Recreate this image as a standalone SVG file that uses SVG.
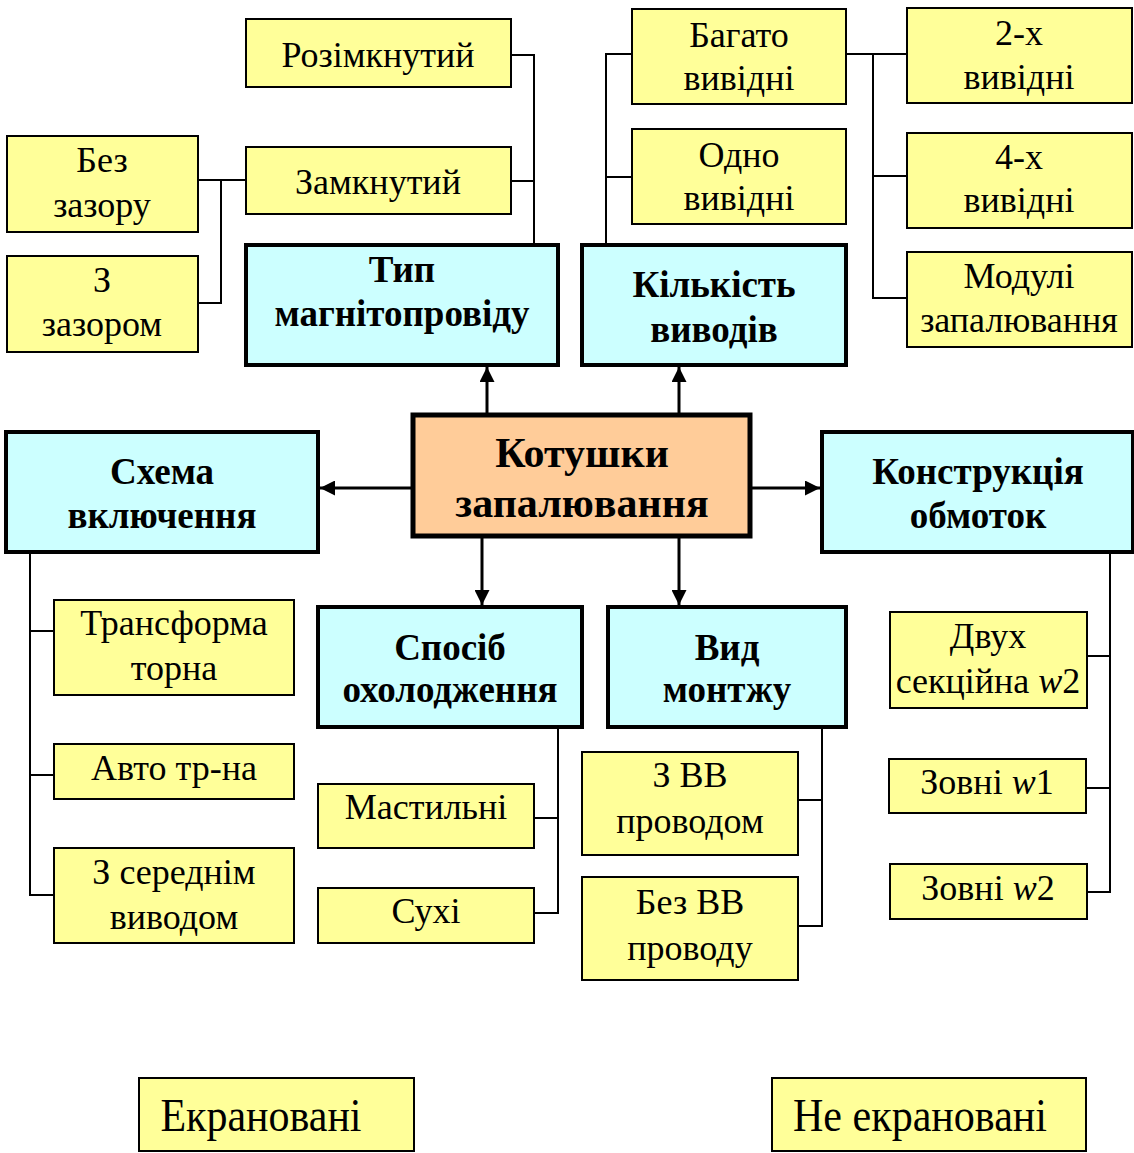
<svg xmlns="http://www.w3.org/2000/svg" width="1134" height="1153" viewBox="0 0 1134 1153">
<style>
.y{fill:#FFFF99;stroke:#000;stroke-width:2}
.c{fill:#CCFFFF;stroke:#000;stroke-width:4}
.o{fill:#FFCC99;stroke:#000;stroke-width:5}
text{font-family:"Liberation Serif","Times New Roman",serif;text-anchor:middle;fill:#000}
.t{font-size:36px}
.b{font-size:37px;font-weight:bold}
.m{font-size:42px;font-weight:bold}
.l{font-size:46px}
.ln{fill:none;stroke:#000;stroke-width:2}
.ar{fill:none;stroke:#000;stroke-width:3}
</style>
<defs>
<marker id="ah" viewBox="0 0 10 10" refX="10" refY="5" markerWidth="5" markerHeight="5" markerUnits="strokeWidth" orient="auto">
<path d="M0,0 L10,5 L0,10 z" fill="#000"/>
</marker>
</defs>
<g id="connectors">
<polyline class="ln" points="511,55 534,55 534,245"/>
<polyline class="ln" points="511,181 534,181"/>
<polyline class="ln" points="198,180 246,180"/>
<polyline class="ln" points="221,180 221,303 198,303"/>
<polyline class="ln" points="606,245 606,54 632,54"/>
<polyline class="ln" points="606,177 632,177"/>
<polyline class="ln" points="846,54 907,54"/>
<polyline class="ln" points="873,54 873,298 910,298"/>
<polyline class="ln" points="873,176 910,176"/>
<polyline class="ln" points="30,552 30,895 54,895"/>
<polyline class="ln" points="30,631 54,631"/>
<polyline class="ln" points="30,775 54,775"/>
<polyline class="ln" points="558,727 558,913 534,913"/>
<polyline class="ln" points="534,818 558,818"/>
<polyline class="ln" points="822,727 822,926 798,926"/>
<polyline class="ln" points="798,800 822,800"/>
<polyline class="ln" points="1110,552 1110,892 1087,892"/>
<polyline class="ln" points="1087,656 1110,656"/>
<polyline class="ln" points="1086,788 1110,788"/>
<line class="ar" x1="487" y1="413" x2="487" y2="367" marker-end="url(#ah)"/>
<line class="ar" x1="679" y1="413" x2="679" y2="367" marker-end="url(#ah)"/>
<line class="ar" x1="411" y1="488" x2="320" y2="488" marker-end="url(#ah)"/>
<line class="ar" x1="746" y1="488" x2="820" y2="488" marker-end="url(#ah)"/>
<line class="ar" x1="482" y1="538" x2="482" y2="605" marker-end="url(#ah)"/>
<line class="ar" x1="679" y1="538" x2="679" y2="605" marker-end="url(#ah)"/>
</g>
<g id="rozimknutyi"><rect class="y" x="246" y="19" width="265" height="68"/><text class="t" x="378" y="67">Розімкнутий</text></g>
<g id="zamknutyi"><rect class="y" x="246" y="147" width="265" height="67"/><text class="t" x="378" y="194">Замкнутий</text></g>
<g id="bez-zazoru"><rect class="y" x="7" y="136" width="191" height="96"/><text class="t" x="102" y="172">Без</text><text class="t" x="102" y="217">зазору</text></g>
<g id="z-zazorom"><rect class="y" x="7" y="256" width="191" height="96"/><text class="t" x="102" y="292">З</text><text class="t" x="102" y="336">зазором</text></g>
<g id="typ"><rect class="c" x="246" y="245" width="312" height="120"/><text class="b" x="402" y="282">Тип</text><text class="b" x="402" y="326">магнітопровіду</text></g>
<g id="kilkist"><rect class="c" x="582" y="245" width="264" height="120"/><text class="b" x="714" y="297">Кількість</text><text class="b" x="714" y="342">виводів</text></g>
<g id="bagato"><rect class="y" x="632" y="9" width="214" height="95"/><text class="t" x="739" y="47">Багато</text><text class="t" x="739" y="90">вивідні</text></g>
<g id="odno"><rect class="y" x="632" y="129" width="214" height="95"/><text class="t" x="739" y="167">Одно</text><text class="t" x="739" y="210">вивідні</text></g>
<g id="dvokh"><rect class="y" x="907" y="8" width="225" height="95"/><text class="t" x="1019" y="45">2-х</text><text class="t" x="1019" y="89">вивідні</text></g>
<g id="chotyr"><rect class="y" x="907" y="133" width="225" height="95"/><text class="t" x="1019" y="169">4-х</text><text class="t" x="1019" y="212">вивідні</text></g>
<g id="moduli"><rect class="y" x="907" y="252" width="225" height="95"/><text class="t" x="1019" y="288">Модулі</text><text class="t" x="1019" y="332">запалювання</text></g>
<g id="kotushky"><rect class="o" x="413" y="415" width="337" height="121"/><text class="m" x="582" y="467">Котушки</text><text class="m" x="582" y="517">запалювання</text></g>
<g id="skhema"><rect class="c" x="6" y="432" width="312" height="120"/><text class="b" x="162" y="484">Схема</text><text class="b" x="162" y="528">включення</text></g>
<g id="konstruktsiia"><rect class="c" x="822" y="432" width="311" height="120"/><text class="b" x="978" y="484">Конструкція</text><text class="b" x="978" y="528">обмоток</text></g>
<g id="sposib"><rect class="c" x="318" y="607" width="264" height="120"/><text class="b" x="450" y="660">Спосіб</text><text class="b" x="450" y="702">охолодження</text></g>
<g id="vyd"><rect class="c" x="608" y="607" width="238" height="120"/><text class="b" x="727" y="660">Вид</text><text class="b" x="727" y="702">монтжу</text></g>
<g id="transform"><rect class="y" x="54" y="600" width="240" height="95"/><text class="t" x="174" y="635">Трансформа</text><text class="t" x="174" y="680">торна</text></g>
<g id="avto"><rect class="y" x="54" y="744" width="240" height="55"/><text class="t" x="174" y="780">Авто тр-на</text></g>
<g id="seredni"><rect class="y" x="54" y="848" width="240" height="95"/><text class="t" x="174" y="884">З середнім</text><text class="t" x="174" y="929">виводом</text></g>
<g id="mastylni"><rect class="y" x="318" y="784" width="216" height="64"/><text class="t" x="426" y="819">Мастильні</text></g>
<g id="sukhi"><rect class="y" x="318" y="888" width="216" height="55"/><text class="t" x="426" y="923">Сухі</text></g>
<g id="z-vv"><rect class="y" x="582" y="752" width="216" height="103"/><text class="t" x="690" y="787">З ВВ</text><text class="t" x="690" y="833">проводом</text></g>
<g id="bez-vv"><rect class="y" x="582" y="877" width="216" height="103"/><text class="t" x="690" y="914">Без ВВ</text><text class="t" x="690" y="960">проводу</text></g>
<g id="dvukh"><rect class="y" x="890" y="612" width="197" height="96"/><text class="t" x="988" y="648">Двух</text><text class="t" x="988" y="693">секційна <tspan font-style="italic">w</tspan>2</text></g>
<g id="zovni-w1"><rect class="y" x="889" y="759" width="197" height="54"/><text class="t" x="987" y="794">Зовні <tspan font-style="italic">w</tspan>1</text></g>
<g id="zovni-w2"><rect class="y" x="890" y="864" width="197" height="55"/><text class="t" x="988" y="900">Зовні <tspan font-style="italic">w</tspan>2</text></g>
<g id="ekranovani"><rect class="y" x="139" y="1078" width="275" height="73"/><text class="l" x="261" y="1131" textLength="201" lengthAdjust="spacingAndGlyphs">Екрановані</text></g>
<g id="ne-ekranovani"><rect class="y" x="772" y="1078" width="314" height="73"/><text class="l" x="920" y="1131" textLength="254" lengthAdjust="spacingAndGlyphs">Не екрановані</text></g>
</svg>
